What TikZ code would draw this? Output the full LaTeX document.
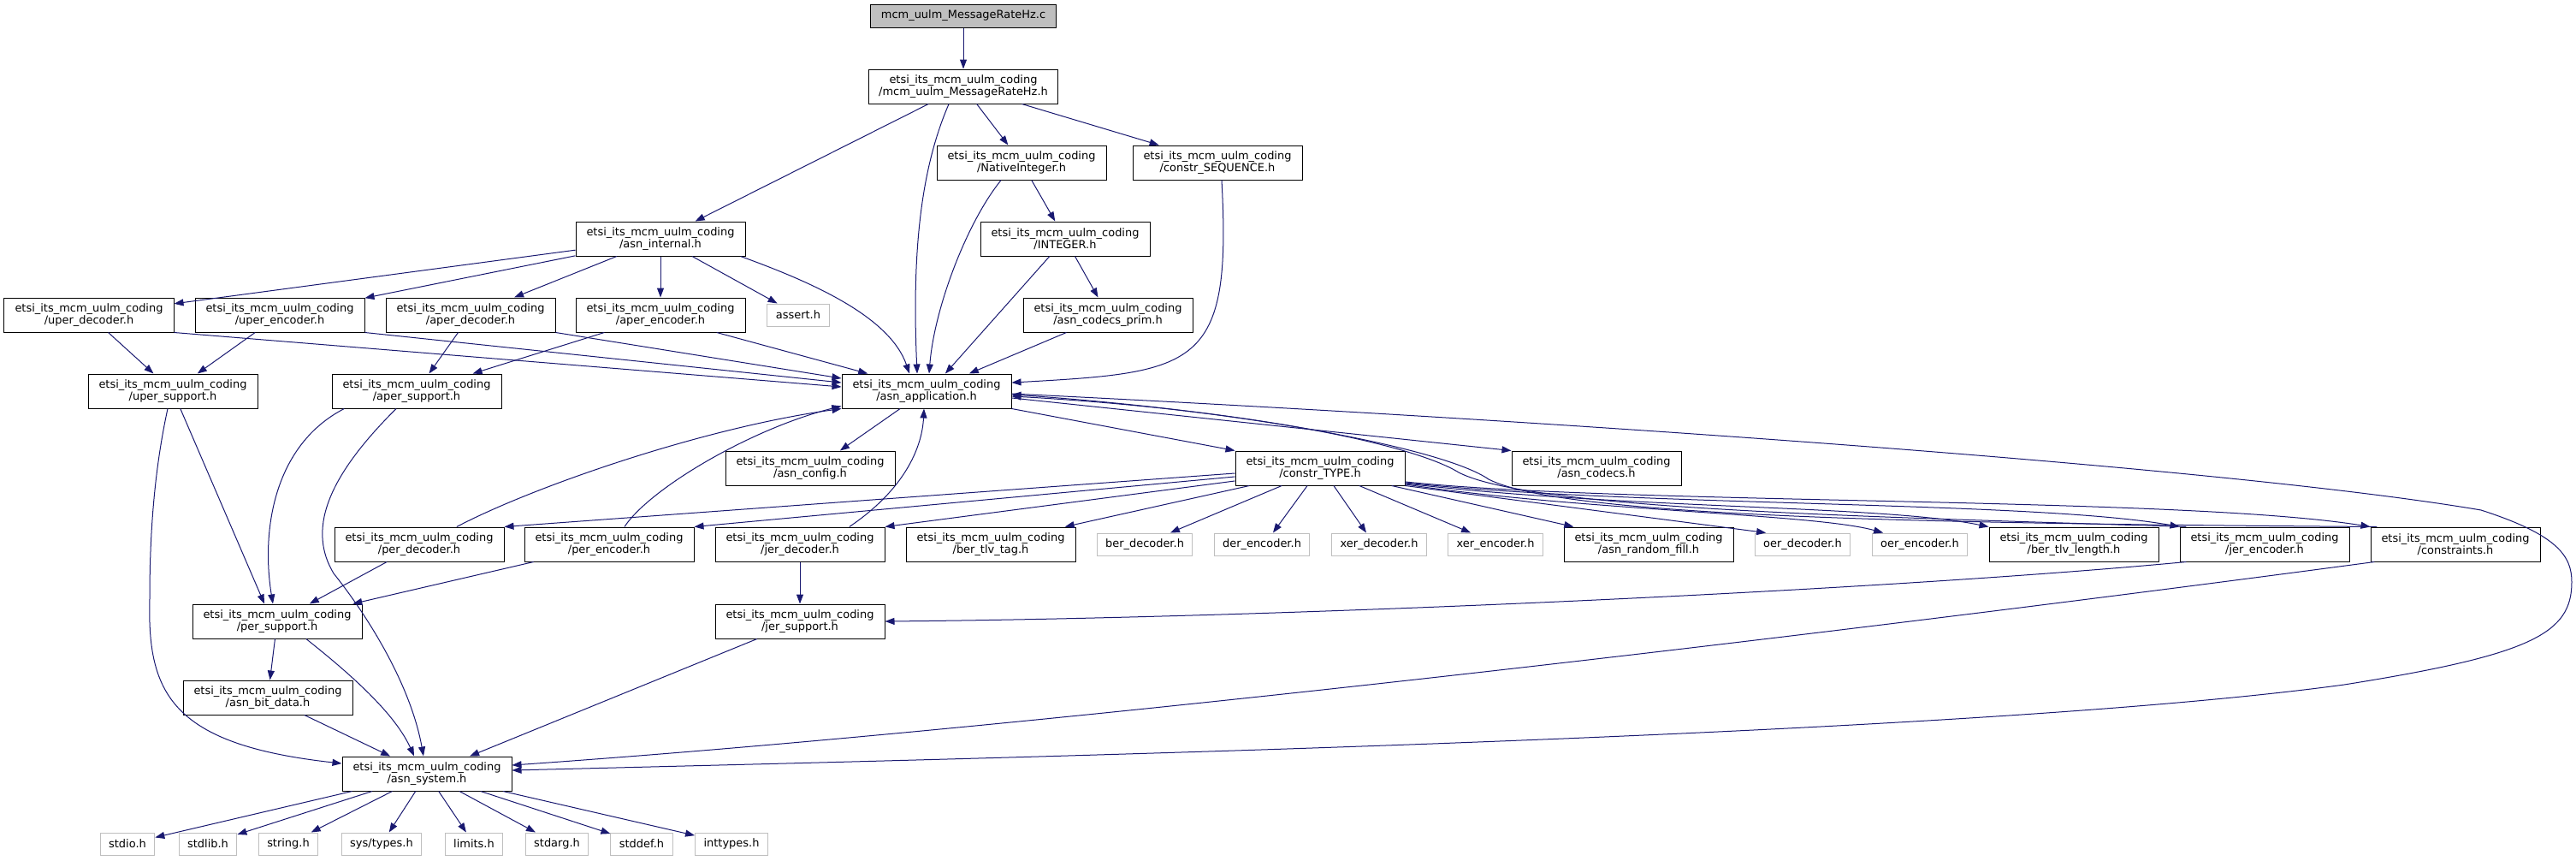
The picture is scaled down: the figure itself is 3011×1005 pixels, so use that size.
\documentclass[tikz,border=0pt]{standalone}
\usepackage{fontspec}
\setmainfont{DejaVu Sans}
\usetikzlibrary{arrows.meta}
\definecolor{edgeblue}{HTML}{191970}
\definecolor{extgray}{HTML}{BFBFBF}
\newcommand{\etsi}{etsi\_its\_mcm\_uulm\_coding\\/}

\begin{document}
\begin{tikzpicture}[x=1bp,y=-1bp,->,>={Triangle[length=11bp,width=8bp]},
  every node/.style={font=\fontsize{13}{13.5}\selectfont, align=center},
  header/.style={draw=black, fill=white, line width=1bp, minimum width=198bp,
    minimum height=40bp, inner xsep=12bp, inner ysep=1bp},
  extern/.style={draw=extgray, fill=white, line width=1bp, minimum height=26bp,
    inner xsep=10bp, inner ysep=1bp},
  source/.style={header, fill=extgray, minimum width=0bp, minimum height=27bp},
  inc/.style={draw=edgeblue, line width=1bp}]
\useasboundingbox (0,0) rectangle (3011,1005);

\node[source] (root) at (1126,18.5) {mcm\_uulm\_MessageRateHz.c};
\node[header] (mrh) at (1126,101) {\etsi mcm\_uulm\_MessageRateHz.h};
\node[header] (nint) at (1194,190) {\etsi NativeInteger.h};
\node[header] (cseq) at (1423,190) {\etsi constr\_SEQUENCE.h};
\node[header] (integer) at (1245,279) {\etsi INTEGER.h};
\node[header] (internal) at (772,279) {\etsi asn\_internal.h};
\node[header] (uperdec) at (104,368) {\etsi uper\_decoder.h};
\node[header] (uperenc) at (327,368) {\etsi uper\_encoder.h};
\node[header] (aperdec) at (550,368) {\etsi aper\_decoder.h};
\node[header] (aperenc) at (772,368) {\etsi aper\_encoder.h};
\node[extern] (assert) at (933,368) {assert.h};
\node[header] (prim) at (1295,368) {\etsi asn\_codecs\_prim.h};
\node[header] (upersup) at (202,457) {\etsi uper\_support.h};
\node[header] (apersup) at (487,457) {\etsi aper\_support.h};
\node[header] (app) at (1083,457) {\etsi asn\_application.h};
\node[header] (config) at (947,547) {\etsi asn\_config.h};
\node[header] (ctype) at (1543,547) {\etsi constr\_TYPE.h};
\node[header] (codecs) at (1866,547) {\etsi asn\_codecs.h};
\node[header] (perdec) at (490,636) {\etsi per\_decoder.h};
\node[header] (perenc) at (712,636) {\etsi per\_encoder.h};
\node[header] (jerdec) at (935,636) {\etsi jer\_decoder.h};
\node[header] (bertag) at (1158,636) {\etsi ber\_tlv\_tag.h};
\node[extern] (berdec) at (1338,636) {ber\_decoder.h};
\node[extern] (derenc) at (1475,636) {der\_encoder.h};
\node[extern] (xerdec) at (1612,636) {xer\_decoder.h};
\node[extern] (xerenc) at (1748,636) {xer\_encoder.h};
\node[header] (rfill) at (1927,636) {\etsi asn\_random\_fill.h};
\node[extern] (oerdec) at (2107,636) {oer\_decoder.h};
\node[extern] (oerenc) at (2244,636) {oer\_encoder.h};
\node[header] (berlen) at (2424,636) {\etsi ber\_tlv\_length.h};
\node[header] (jerenc) at (2647,636) {\etsi jer\_encoder.h};
\node[header] (cons) at (2870,636) {\etsi constraints.h};
\node[header] (persup) at (324,726) {\etsi per\_support.h};
\node[header] (jersup) at (935,726) {\etsi jer\_support.h};
\node[header] (bitdata) at (313,815) {\etsi asn\_bit\_data.h};
\node[header] (sys) at (499,904) {\etsi asn\_system.h};
\node[extern] (stdio) at (149,986) {stdio.h};
\node[extern] (stdlib) at (243,986) {stdlib.h};
\node[extern] (string) at (337,986) {string.h};
\node[extern] (systypes) at (446,986) {sys/types.h};
\node[extern] (limits) at (554,986) {limits.h};
\node[extern] (stdarg) at (651,986) {stdarg.h};
\node[extern] (stddef) at (750,986) {stddef.h};
\node[extern] (inttypes) at (855,986) {inttypes.h};

\draw[inc] (root) -- (mrh);
\draw[inc] (mrh) -- (internal);
\draw[inc] ([xshift=-17]mrh.south) .. controls (1075,200) and (1066,300) .. ([xshift=-11]app.north);
\draw[inc] (mrh) -- (nint);
\draw[inc] (mrh) -- (cseq);
\draw[inc] (nint) -- (integer);
\draw[inc] ([xshift=-24]nint.south) .. controls (1130,260) and (1092,360) .. ([xshift=3]app.north);
\draw[inc] ([xshift=5]cseq.south) .. controls (1440,430) and (1400,435) .. ([yshift=10]app.east);
\draw[inc] (integer) -- ([xshift=22]app.north);
\draw[inc] (integer) -- (prim);
\draw[inc] (prim) -- ([xshift=50]app.north);
\draw[inc] (internal) -- (uperdec);
\draw[inc] (internal) -- (uperenc);
\draw[inc] (internal) -- (aperdec);
\draw[inc] (internal) -- (aperenc);
\draw[inc] (internal) -- (assert);
\draw[inc] ([xshift=94]internal.south) .. controls (950,330) and (1040,370) .. ([xshift=-20]app.north);
\draw[inc] (uperdec.south east) -- ([yshift=5]app.west);
\draw[inc] (uperenc.south east) -- ([yshift=10]app.west);
\draw[inc] (aperdec.south east) -- ([yshift=15]app.west);
\draw[inc] ([xshift=66]aperenc.south) -- ([xshift=-69]app.north);
\draw[inc] (uperdec) -- (upersup);
\draw[inc] (uperenc) -- (upersup);
\draw[inc] (aperdec) -- (apersup);
\draw[inc] (aperenc) -- (apersup);
\draw[inc] (upersup) -- ([xshift=-15]persup.north);
\draw[inc] ([xshift=-6]upersup.south) .. controls (178,560) and (175,640) .. (175,700)
  .. controls (172,810) and (200,870) .. ([yshift=12]sys.west);
\draw[inc] ([xshift=-85]apersup.south) .. controls (320,520) and (305,620) .. ([xshift=-5]persup.north);
\draw[inc] ([xshift=-24]apersup.south) .. controls (380,560) and (360,620) .. (390,670)
  .. controls (430,720) and (480,800) .. ([xshift=-4]sys.north);
\draw[inc] ([xshift=-31]app.south) -- ([xshift=35]config.north);
\draw[inc] (app.south east) -- (ctype.north west);
\draw[inc] ([yshift=-8]app.east) -- (codecs.north west);
\draw[inc] ([yshift=-3]app.east) .. controls (1800,490) and (2600,545) .. (2900,596)
  .. controls (2990,625) and (3006,650) .. (3006,680)
  .. controls (3006,740) and (2960,765) .. (2740,800)
  .. controls (2300,860) and (1200,885) .. ([yshift=4]sys.east);
\draw[inc] ([xshift=-92]jerenc.north) .. controls (2200,604) and (1790,596) .. (1705,552)
  .. controls (1650,518) and (1450,478) .. ([yshift=-6]app.east);
\draw[inc] ([xshift=-92]cons.north) .. controls (2300,612) and (1830,606) .. (1740,560)
  .. controls (1690,525) and (1460,480) .. ([yshift=-4]app.east);
\draw[inc] ([yshift=-6]ctype.west) -- (perdec.north east);
\draw[inc] ([yshift=-10]ctype.west) -- (perenc.north east);
\draw[inc] ([yshift=-15]ctype.west) -- (jerdec.north east);
\draw[inc] ([xshift=-83]ctype.south) -- ([xshift=87]bertag.north);
\draw[inc] ([xshift=-45]ctype.south) -- ([xshift=30]berdec.north);
\draw[inc] ([xshift=-15]ctype.south) -- ([xshift=13]derenc.north);
\draw[inc] ([xshift=16]ctype.south) -- ([xshift=-15]xerdec.north);
\draw[inc] ([xshift=46]ctype.south) -- ([xshift=-29]xerenc.north);
\draw[inc] ([xshift=84]ctype.south) -- ([xshift=-88]rfill.north);
\draw[inc] (ctype.south east) -- ([xshift=-43]oerdec.north);
\draw[inc] ([yshift=-19]ctype.east) .. controls (1850,597) and (2120,600) .. ([xshift=-43]oerenc.north);
\draw[inc] ([yshift=-18]ctype.east) .. controls (1900,595) and (2200,590) .. (berlen.north west);
\draw[inc] ([yshift=-17]ctype.east) .. controls (1900,592) and (2380,585) .. (jerenc.north west);
\draw[inc] ([yshift=-16]ctype.east) .. controls (1900,590) and (2550,580) .. (cons.north west);
\draw[inc] ([xshift=44]perdec.north) .. controls (620,570) and (820,500) .. (app.south west);
\draw[inc] ([xshift=18]perenc.north) .. controls (760,570) and (880,500) .. ([yshift=3]app.south west);
\draw[inc] ([xshift=58]jerdec.north) .. controls (1060,570) and (1078,520) .. ([xshift=-3]app.south);
\draw[inc] (perdec) -- (persup);
\draw[inc] (perenc) -- (persup);
\draw[inc] (jerdec) -- (jersup);
\draw[inc] ([xshift=-92]jerenc.south) .. controls (2200,690) and (1500,722) .. (jersup.east);
\draw[inc] ([xshift=-95]cons.south) .. controls (2300,720) and (1300,845) .. ([yshift=10]sys.east);
\draw[inc] (persup) -- (bitdata);
\draw[inc] ([xshift=34]persup.south) .. controls (400,780) and (460,830) .. ([xshift=-15]sys.north);
\draw[inc] (bitdata) -- (sys);
\draw[inc] (jersup) -- (sys);
\draw[inc] (sys) -- (stdio);
\draw[inc] (sys) -- (stdlib);
\draw[inc] (sys) -- (string);
\draw[inc] (sys) -- (systypes);
\draw[inc] (sys) -- (limits);
\draw[inc] (sys) -- (stdarg);
\draw[inc] (sys) -- (stddef);
\draw[inc] (sys) -- (inttypes);
\end{tikzpicture}
\end{document}
